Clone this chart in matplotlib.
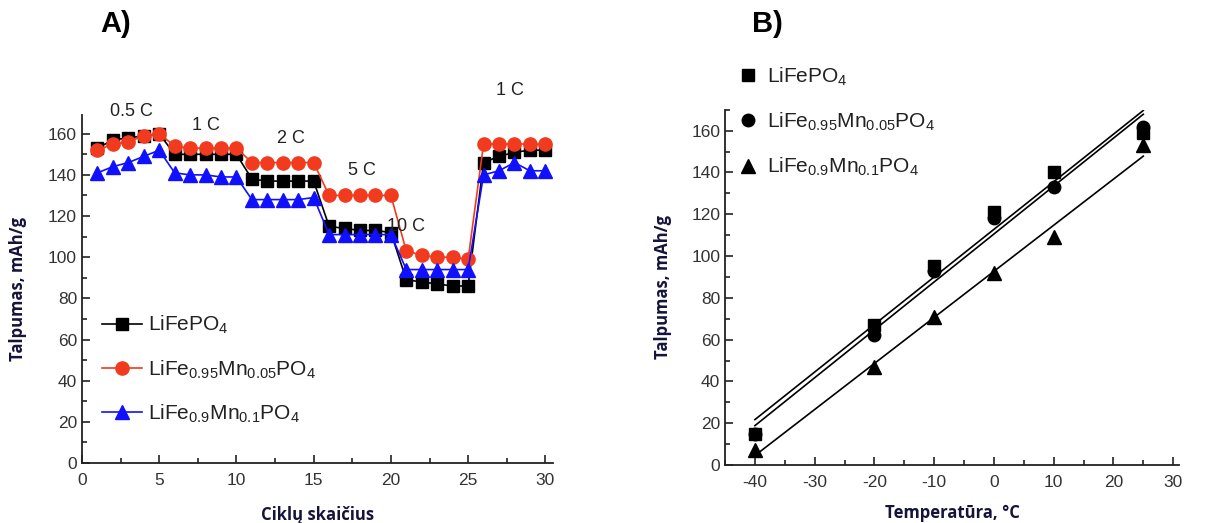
import matplotlib
matplotlib.use("Agg")
import matplotlib.pyplot as plt
import numpy as np
from matplotlib.ticker import MultipleLocator

plt.rcParams['font.family'] = ['Liberation Sans', 'DejaVu Sans']
plt.rcParams['mathtext.fontset'] = 'custom'
plt.rcParams['mathtext.rm'] = 'Liberation Sans'
plt.rcParams['mathtext.default'] = 'regular'
plt.rcParams['axes.unicode_minus'] = False

# ---- Panel A data ----
cycles = list(range(1, 31))
lfp = [153, 157, 158, 159, 160,
       150, 150, 150, 150, 150,
       138, 137, 137, 137, 137,
       115, 114, 113, 113, 112,
       89, 88, 87, 86, 86,
       146, 149, 151, 152, 152]
lfmp05 = [152, 155, 156, 159, 160,
          154, 153, 153, 153, 153,
          146, 146, 146, 146, 146,
          130, 130, 130, 130, 130,
          103, 101, 100, 100, 99,
          155, 155, 155, 155, 155]
lfmp10 = [141, 144, 146, 149, 152,
          141, 140, 140, 139, 139,
          128, 128, 128, 128, 129,
          111, 111, 111, 111, 111,
          94, 94, 94, 94, 94,
          140, 142, 146, 142, 142]
rate_labels = ["0.5 C", "1 C", "2 C", "5 C", "10 C", "1 C"]
rate_pos = [(3.2, 171), (8.0, 164), (13.5, 157.5), (18.1, 142), (21.0, 115), (27.7, 181)]

# ---- Panel B data ----
temps = [-40, -20, -10, 0, 10, 25]
b_lfp = [15, 67, 95, 121, 140, 159]
b_lfmp05 = [15, 62, 93, 118, 133, 162]
b_lfmp10 = [7, 47, 71, 92, 109, 153]

names = ["LiFePO$_4$", "LiFe$_{0.95}$Mn$_{0.05}$PO$_4$", "LiFe$_{0.9}$Mn$_{0.1}$PO$_4$"]

fig = plt.figure(figsize=(12.11, 5.23), dpi=100)
axA = fig.add_axes([0.0677, 0.1147, 0.389, 0.665])
axB = fig.add_axes([0.5987, 0.111, 0.375, 0.679])

label_font = dict(family=['Open Sans', 'DejaVu Sans'], fontsize=12, fontweight='bold', color='#14143a')

red = "#f23a1e"
blue = "#1010ff"
axA.plot(cycles, lfp, '-s', color='black', ms=8, lw=1.2, label=names[0])
axA.plot(cycles, lfmp05, '-o', color=red, ms=9.5, lw=1.2, label=names[1])
axA.plot(cycles, lfmp10, '-^', color=blue, ms=10, lw=1.2, label=names[2])
for t, (x, y) in zip(rate_labels, rate_pos):
    axA.text(x, y, t, ha='center', va='center', fontsize=13, color='#222222', clip_on=False)

axA.set_xlim(0, 30.5)
axA.set_ylim(0, 169)
axA.xaxis.set_major_locator(MultipleLocator(5))
axA.xaxis.set_minor_locator(MultipleLocator(2.5))
axA.yaxis.set_major_locator(MultipleLocator(20))
axA.yaxis.set_minor_locator(MultipleLocator(10))
axA.set_xlabel("Ciklų skaičius", labelpad=13, **label_font)
axA.set_ylabel("Talpumas, mAh/g", labelpad=15, **label_font)
leg = axA.legend(loc='lower left', bbox_to_anchor=(0.017, 0.074), frameon=False, fontsize=15,
                 handlelength=1.9, handletextpad=0.3, labelspacing=1.05, borderaxespad=0.2)
for txt in leg.get_texts():
    txt.set_color('#222222')

axB.plot(temps, b_lfp, 's', color='black', ms=8, label=names[0])
axB.plot(temps, b_lfmp05, 'o', color='black', ms=9, label=names[1])
axB.plot(temps, b_lfmp10, '^', color='black', ms=10, label=names[2])
xf = np.array([temps[0], temps[-1]])
for ys in (b_lfp, b_lfmp05, b_lfmp10):
    k, b = np.polyfit(temps, ys, 1)
    axB.plot(xf, k * xf + b, '-', color='black', lw=1.2)
axB.set_xlim(-45, 31)
axB.set_ylim(0, 170)
axB.xaxis.set_major_locator(MultipleLocator(10))
axB.xaxis.set_minor_locator(MultipleLocator(5))
axB.yaxis.set_major_locator(MultipleLocator(20))
axB.yaxis.set_minor_locator(MultipleLocator(10))
axB.set_xlabel("Temperatūra, °C", labelpad=10, **label_font)
axB.set_ylabel("Talpumas, mAh/g", labelpad=14, **label_font)
legB = axB.legend(loc='upper left', bbox_to_anchor=(0.0, 1.16), frameon=False, fontsize=15,
                  handlelength=1.0, handletextpad=0.4, labelspacing=1.1, numpoints=1, borderaxespad=0.2)
for txt in legB.get_texts():
    txt.set_color('#222222')

for ax in (axA, axB):
    ax.spines['top'].set_visible(False)
    ax.spines['right'].set_visible(False)
    for s in ('left', 'bottom'):
        ax.spines[s].set_linewidth(1.3)
        ax.spines[s].set_color('#222222')
    ax.tick_params(which='both', direction='in', colors='#222222', labelsize=12.5, width=1.2)
    ax.tick_params(which='major', length=6)
    ax.tick_params(which='minor', length=3.5)
    ax.tick_params(axis='x', pad=7)
    ax.tick_params(axis='both', labelcolor='#333333')

fig.text(0.083, 0.955, "A)", fontsize=21, fontweight='bold', ha='left', va='center')
fig.text(0.621, 0.955, "B)", fontsize=21, fontweight='bold', ha='left', va='center')

fig.savefig("out.png", dpi=100)
